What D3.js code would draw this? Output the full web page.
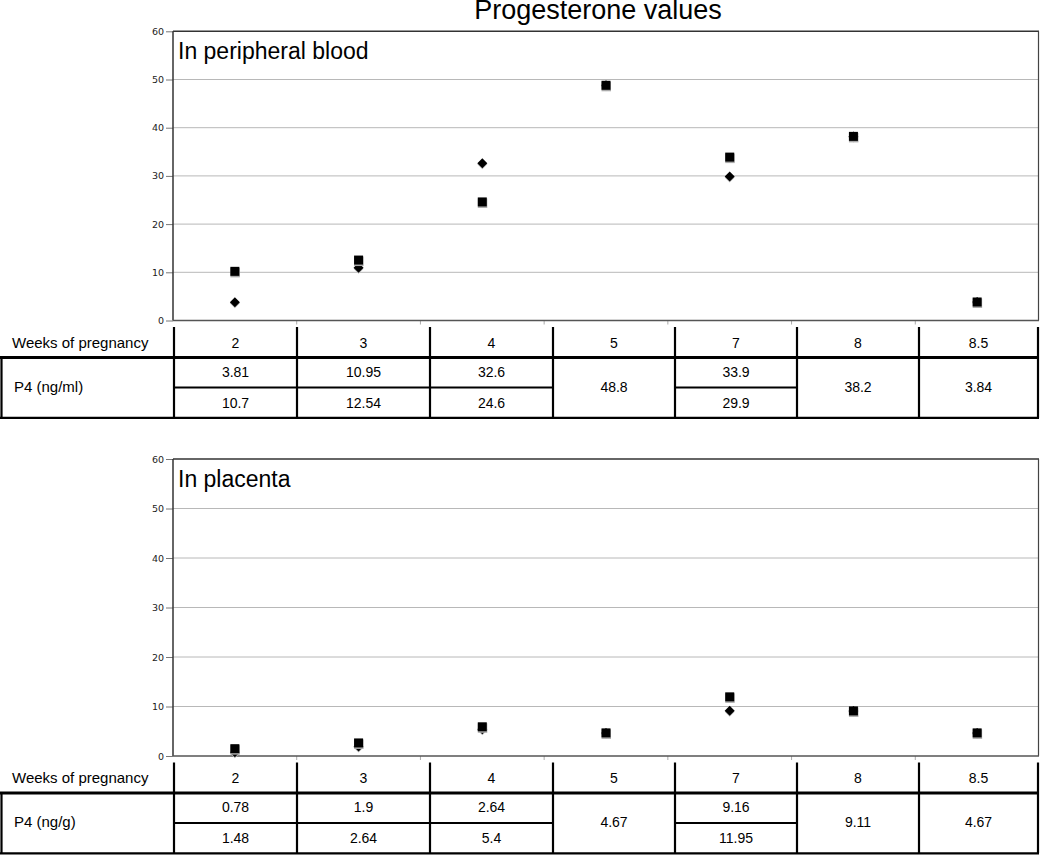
<!DOCTYPE html>
<html>
<head>
<meta charset="utf-8">
<script src="https://cdn.jsdelivr.net/npm/d3@7"></script>
<style>
  body { margin: 0; background: #fff; }
  svg { display: block; font-family: "Liberation Sans", Arial, sans-serif; }
</style>
</head>
<body>
<div class="canva"></div>
<script>
// categories + values
const weeks = ['2', '3', '4', '5', '7', '8', '8.5'];
const yTicks = [0, 10, 20, 30, 40, 50, 60];

// peripheral blood, ng/ml
const bloodDiamond = [3.81, 10.95, 32.6, 48.8, 29.9, 38.2, 3.84];
const bloodSquare = [10.2, 12.54, 24.6, 48.8, 33.9, 38.2, 3.84];
const bloodRow1 = ['3.81', '10.95', '32.6', '48.8', '33.9', '38.2', '3.84'];
const bloodRow2 = ['10.7', '12.54', '24.6', null, '29.9', null, null];

// placenta, ng/g
const placentaDiamond = [0.78, 1.9, 5.4, 4.67, 9.16, 9.11, 4.67];
const placentaSquare = [1.48, 2.64, 5.9, 4.67, 11.95, 9.11, 4.67];
const placentaRow1 = ['0.78', '1.9', '2.64', '4.67', '9.16', '9.11', '4.67'];
const placentaRow2 = ['1.48', '2.64', '5.4', null, '11.95', null, null];

const canvas = d3.select('.canva');
const svg = canvas.append('svg')
    .attr('width', 1041)
    .attr('height', 855);

svg.append('text')
    .attr('x', 598).attr('y', 18.5)
    .attr('text-anchor', 'middle')
    .attr('font-size', 27)
    .text('Progesterone values');

const left = 173, right = 1039;
// table column edges (the table is drawn a bit off the plot bands)
const colEdges = [174, 297, 430, 553, 675, 797, 919, 1038];

const x = d3.scaleBand().domain(weeks).range([left, right]);

function drawPanel(top, bottom, label, unit, diamonds, squares, row1, row2) {
    const g = svg.append('g');
    const y = d3.scaleLinear().domain([0, 60]).range([bottom, top]);

    // gridlines
    g.selectAll('.grid')
        .data(yTicks.filter(d => d > 0 && d < 60))
        .enter().append('line')
        .attr('x1', left).attr('x2', right)
        .attr('y1', d => y(d)).attr('y2', d => y(d))
        .attr('stroke', '#b8b8b8').attr('stroke-width', 1);

    // y axis
    const yAxis = g.append('g')
        .attr('transform', `translate(${left},0)`)
        .call(d3.axisLeft(y).tickValues(yTicks).tickSize(7).tickPadding(2));
    yAxis.select('.domain').remove();
    yAxis.selectAll('line').attr('stroke', '#777');
    yAxis.selectAll('text')
        .attr('font-family', '"DejaVu Sans", sans-serif')
        .attr('font-size', 9.5)
        .attr('fill', '#222');

    // x ticks at band boundaries
    g.selectAll('.xt')
        .data(weeks.slice(1))
        .enter().append('line')
        .attr('x1', d => x(d)).attr('x2', d => x(d))
        .attr('y1', bottom).attr('y2', bottom + 4)
        .attr('stroke', '#aaa');

    // frame
    g.append('line').attr('x1', left).attr('x2', right).attr('y1', top).attr('y2', top)
        .attr('stroke', '#333').attr('stroke-width', 1.5);
    g.append('line').attr('x1', left).attr('x2', left).attr('y1', top).attr('y2', bottom)
        .attr('stroke', '#333').attr('stroke-width', 1.5);
    g.append('line').attr('x1', right - 0.5).attr('x2', right - 0.5).attr('y1', top).attr('y2', bottom)
        .attr('stroke', '#444').attr('stroke-width', 1.2);
    g.append('line').attr('x1', left).attr('x2', right).attr('y1', bottom).attr('y2', bottom)
        .attr('stroke', '#555').attr('stroke-width', 1.3);

    g.append('text')
        .attr('x', 178).attr('y', top + 28)
        .attr('font-size', 23)
        .text(label);

    const cx = d => x(d) + x.bandwidth() / 2;

    // diamonds
    const dm = g.selectAll('.dia')
        .data(weeks.map((w, i) => ({ w, v: diamonds[i] })))
        .enter().append('g')
        .attr('transform', d => `translate(${cx(d.w)},${y(d.v)})`);
    dm.append('path').attr('d', 'M0,-4 L5,1 L0,6 L-5,1Z').attr('fill', '#bbb');
    dm.append('path').attr('d', 'M0,-5 L5,0 L0,5 L-5,0Z').attr('fill', '#000');

    // squares on top
    const sq = g.selectAll('.sq')
        .data(weeks.map((w, i) => ({ w, v: squares[i] })))
        .enter().append('g')
        .attr('transform', d => `translate(${cx(d.w)},${y(d.v)})`);
    sq.append('rect').attr('x', -4.5).attr('y', -3.5).attr('width', 9.5).attr('height', 9.5).attr('fill', '#aaa');
    sq.append('rect').attr('x', -4.5).attr('y', -4.5).attr('width', 9).attr('height', 9).attr('fill', '#000');

    // table below the plot
    const t = svg.append('g').attr('transform', `translate(0,${bottom})`);
    const vStart = 6.5, thick = 37, mid = 67, end = 97.3;

    t.append('text').attr('x', 12).attr('y', 27)
        .attr('font-size', 15).text('Weeks of pregnancy');
    t.append('text').attr('x', 14).attr('y', 71)
        .attr('font-size', 15).text(unit);

    // column lines
    t.selectAll('.col')
        .data(colEdges)
        .enter().append('line')
        .attr('x1', d => d).attr('x2', d => d)
        .attr('y1', vStart).attr('y2', end)
        .attr('stroke', '#000').attr('stroke-width', 2.2);
    t.append('line').attr('x1', 1.5).attr('x2', 1.5).attr('y1', thick).attr('y2', end)
        .attr('stroke', '#000').attr('stroke-width', 2.2);
    t.append('line').attr('x1', 0).attr('x2', 1039).attr('y1', thick).attr('y2', thick)
        .attr('stroke', '#000').attr('stroke-width', 3);
    t.append('line').attr('x1', 0).attr('x2', 1039).attr('y1', end).attr('y2', end)
        .attr('stroke', '#000').attr('stroke-width', 2.2);

    const cells = weeks.map((w, i) => ({
        w, a: row1[i], b: row2[i],
        x0: colEdges[i], x1: colEdges[i + 1],
        c: (colEdges[i] + colEdges[i + 1]) / 2
    }));

    t.selectAll('.mid')
        .data(cells.filter(d => d.b !== null))
        .enter().append('line')
        .attr('x1', d => d.x0).attr('x2', d => d.x1)
        .attr('y1', mid).attr('y2', mid)
        .attr('stroke', '#000').attr('stroke-width', 2);

    t.selectAll('.hd')
        .data(cells)
        .enter().append('text')
        .attr('x', d => d.c).attr('y', 27)
        .attr('text-anchor', 'middle').attr('font-size', 14)
        .text(d => d.w);

    t.selectAll('.r1')
        .data(cells)
        .enter().append('text')
        .attr('x', d => d.c)
        .attr('y', d => d.b === null ? 71 : 56)
        .attr('text-anchor', 'middle').attr('font-size', 14)
        .text(d => d.a);

    t.selectAll('.r2')
        .data(cells.filter(d => d.b !== null))
        .enter().append('text')
        .attr('x', d => d.c).attr('y', 87)
        .attr('text-anchor', 'middle').attr('font-size', 14)
        .text(d => d.b);
}

drawPanel(31.3, 320.5, 'In peripheral blood', 'P4 (ng/ml)', bloodDiamond, bloodSquare, bloodRow1, bloodRow2);
drawPanel(459, 756, 'In placenta', 'P4 (ng/g)', placentaDiamond, placentaSquare, placentaRow1, placentaRow2);
</script>
</body>
</html>
